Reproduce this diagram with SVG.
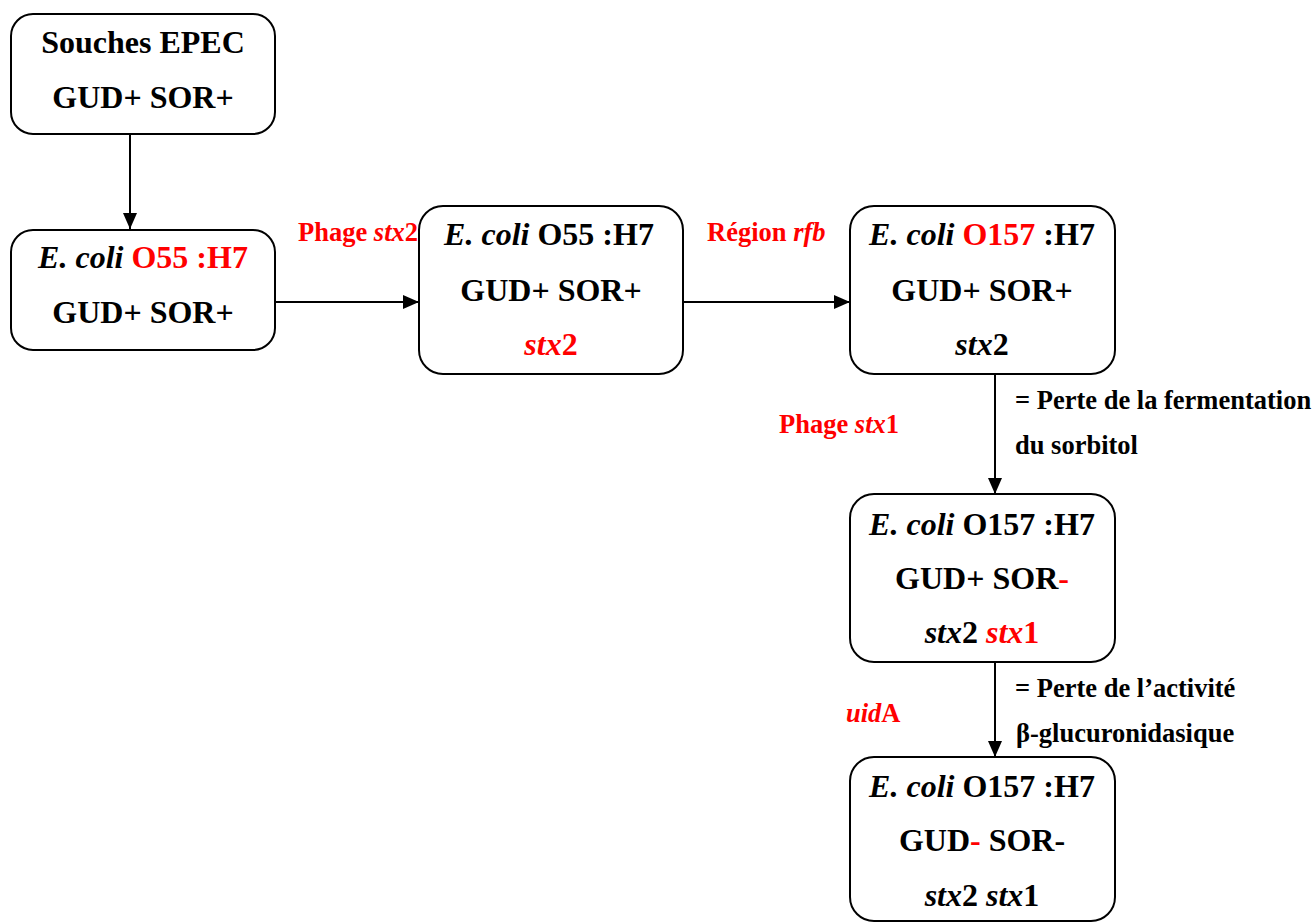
<svg xmlns="http://www.w3.org/2000/svg" width="1315" height="923" viewBox="0 0 1315 923">
<style>
.box{fill:#fff;stroke:#000;stroke-width:2}
.t{font-weight:bold;font-size:32px;fill:#000;text-anchor:middle}
.l{font-weight:bold;font-size:26.5px;fill:#000}
.r{fill:#ff0000}
.i{font-style:italic}
.c{stroke:#000;stroke-width:2;fill:none}
</style>
<defs>
<marker id="ah" markerUnits="userSpaceOnUse" markerWidth="16" markerHeight="14" refX="16" refY="7" orient="auto">
<path d="M0,0 L16,7 L0,14 z" fill="#000"/>
</marker>
</defs>
<g id="connectors">
<line class="c" x1="130" y1="134" x2="130" y2="229" marker-end="url(#ah)"/>
<line class="c" x1="275" y1="302" x2="419" y2="302" marker-end="url(#ah)"/>
<line class="c" x1="683" y1="302" x2="850" y2="302" marker-end="url(#ah)"/>
<line class="c" x1="995" y1="374" x2="995" y2="494" marker-end="url(#ah)"/>
<line class="c" x1="995" y1="662" x2="995" y2="757" marker-end="url(#ah)"/>
</g>
<g font-family="Liberation Serif, DejaVu Serif, serif">
<g id="labels">
<text class="l r" x="298" y="241">Phage <tspan class="i">stx</tspan>2</text>
<text class="l r" x="707" y="241">Région <tspan class="i">rfb</tspan></text>
<text class="l" x="1015" y="409">= Perte de la fermentation</text>
<text class="l" x="1015" y="454">du sorbitol</text>
<text class="l r" x="779" y="433">Phage <tspan class="i">stx</tspan>1</text>
<text class="l" x="1015" y="697">= Perte de l’activité</text>
<text class="l" x="1016" y="742">β-glucuronidasique</text>
<text class="l r" x="846" y="722"><tspan class="i">uid</tspan>A</text>
</g>
<g id="n1">
<rect class="box" x="11" y="14" width="264" height="120" rx="22"/>
<text class="t" x="143" y="53">Souches EPEC</text>
<text class="t" x="143" y="108">GUD+ SOR+</text>
</g>
<g id="n2">
<rect class="box" x="11" y="230" width="264" height="120" rx="22"/>
<text class="t" x="143" y="268"><tspan class="i">E. coli</tspan> <tspan class="r">O55 :H7</tspan></text>
<text class="t" x="143" y="323">GUD+ SOR+</text>
</g>
<g id="n3">
<rect class="box" x="419" y="206" width="264" height="168" rx="24"/>
<text class="t" x="549" y="245"><tspan class="i">E. coli</tspan> O55 :H7</text>
<text class="t" x="551" y="301">GUD+ SOR+</text>
<text class="t r" x="551" y="355"><tspan class="i">stx</tspan>2</text>
</g>
<g id="n4">
<rect class="box" x="850" y="206" width="265" height="168" rx="24"/>
<text class="t" x="982" y="245"><tspan class="i">E. coli</tspan> <tspan class="r">O157</tspan> :H7</text>
<text class="t" x="982" y="301">GUD+ SOR+</text>
<text class="t" x="982" y="355"><tspan class="i">stx</tspan>2</text>
</g>
<g id="n5">
<rect class="box" x="850" y="494" width="265" height="168" rx="24"/>
<text class="t" x="982" y="535"><tspan class="i">E. coli</tspan> O157 :H7</text>
<text class="t" x="982" y="589">GUD+ SOR<tspan class="r">-</tspan></text>
<text class="t" x="982" y="643"><tspan class="i">stx</tspan>2 <tspan class="r"><tspan class="i">stx</tspan>1</tspan></text>
</g>
<g id="n6">
<rect class="box" x="850" y="757" width="265" height="164" rx="24"/>
<text class="t" x="982" y="797"><tspan class="i">E. coli</tspan> O157 :H7</text>
<text class="t" x="982" y="851">GUD<tspan class="r">-</tspan> SOR-</text>
<text class="t" x="982" y="906"><tspan class="i">stx</tspan>2 <tspan class="i">stx</tspan>1</text>
</g>
</g>
</svg>
